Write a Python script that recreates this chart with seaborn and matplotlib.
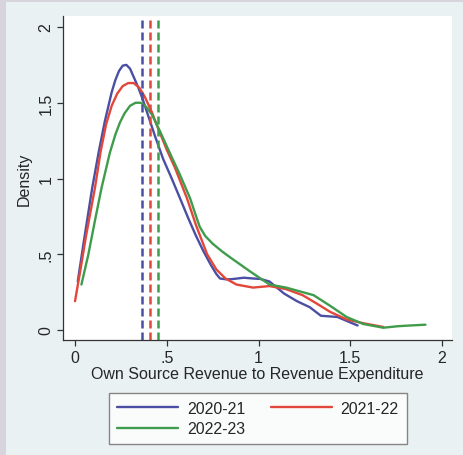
import numpy as np
import pandas as pd
import matplotlib
matplotlib.use("Agg")
import matplotlib.pyplot as plt
import seaborn as sns
from matplotlib.lines import Line2D
from matplotlib.patches import Rectangle

# Kernel density estimates of the ratio, one curve per year
years = ["2020-21", "2021-22", "2022-23"]

x_2020 = [0.015, 0.05, 0.094, 0.13, 0.163, 0.2, 0.22, 0.24, 0.26, 0.28, 0.30, 0.32,
          0.345, 0.367, 0.40, 0.436, 0.48, 0.527, 0.572, 0.62, 0.66, 0.70, 0.74, 0.77,
          0.79, 0.82, 0.85, 0.92, 0.97, 1.01, 1.06, 1.14, 1.21, 1.28, 1.34, 1.43,
          1.50, 1.54]
y_2020 = [0.32, 0.60, 0.94, 1.18, 1.38, 1.57, 1.65, 1.71, 1.745, 1.75, 1.725, 1.67,
          1.60, 1.53, 1.41, 1.28, 1.13, 1.00, 0.87, 0.73, 0.62, 0.52, 0.43, 0.37,
          0.34, 0.335, 0.335, 0.345, 0.34, 0.337, 0.32, 0.24, 0.19, 0.15, 0.094, 0.086,
          0.05, 0.03]

x_2021 = [0.0, 0.03, 0.06, 0.109, 0.14, 0.17, 0.20, 0.23, 0.26, 0.29, 0.32, 0.35,
          0.38, 0.418, 0.45, 0.50, 0.545, 0.61, 0.66, 0.72, 0.77, 0.82, 0.88, 0.97,
          1.06, 1.15, 1.24, 1.31, 1.39, 1.48, 1.57, 1.68]
y_2021 = [0.19, 0.40, 0.62, 0.94, 1.18, 1.36, 1.48, 1.56, 1.61, 1.63, 1.63, 1.60,
          1.54, 1.44, 1.34, 1.19, 1.07, 0.87, 0.69, 0.50, 0.40, 0.34, 0.30, 0.28,
          0.29, 0.27, 0.23, 0.18, 0.12, 0.07, 0.045, 0.02]

x_2022 = [0.035, 0.073, 0.11, 0.145, 0.19, 0.22, 0.245, 0.27, 0.30, 0.33, 0.36, 0.39,
          0.42, 0.46, 0.52, 0.57, 0.627, 0.66, 0.68, 0.71, 0.75, 0.80, 0.845, 0.95,
          1.06, 1.15, 1.30, 1.39, 1.48, 1.57, 1.68, 1.76, 1.83, 1.91]
y_2022 = [0.30, 0.50, 0.73, 0.94, 1.17, 1.29, 1.37, 1.43, 1.48, 1.50, 1.50, 1.47,
          1.42, 1.32, 1.16, 1.03, 0.87, 0.75, 0.68, 0.62, 0.57, 0.52, 0.48, 0.39,
          0.30, 0.28, 0.23, 0.16, 0.086, 0.04, 0.015, 0.025, 0.03, 0.035]

# Yearly means, drawn as dashed reference lines
means = [0.365, 0.41, 0.45]

x_ticks = [0, 0.5, 1, 1.5, 2]
x_tick_labels = ["0", ".5", "1", "1.5", "2"]
y_ticks = [0, 0.5, 1, 1.5, 2]
y_tick_labels = ["0", ".5", "1", "1.5", "2"]

colors = ["#4b4fa3", "#e2473b", "#3f9c4c"]

frames = []
for yr, xs, ys in zip(years, [x_2020, x_2021, x_2022], [y_2020, y_2021, y_2022]):
    frames.append(pd.DataFrame({"ratio": xs, "density": ys, "year": yr}))
df = pd.concat(frames, ignore_index=True)

sns.set_theme(style="white")
plt.rcParams["font.family"] = ["Liberation Sans", "DejaVu Sans"]

W, H = 463, 456
fig = plt.figure(figsize=(W / 100, H / 100), dpi=100)
fig.patch.set_facecolor("#e9f1f2")

# lavender outer frame on the left and top edges
fig.add_artist(Rectangle((0, 0), 6 / W, 1, transform=fig.transFigure,
                         facecolor="#d8d4de", edgecolor="none", zorder=0))
fig.add_artist(Rectangle((0, 1 - 3 / H), 1, 3 / H, transform=fig.transFigure,
                         facecolor="#d8d4de", edgecolor="none", zorder=0))

left, right, top, bottom = 63, 452, 17, 341
ax = fig.add_axes([left / W, 1 - bottom / H, (right - left) / W, (bottom - top) / H])
ax.set_facecolor("white")

sns.lineplot(data=df, x="ratio", y="density", hue="year", palette=colors,
             sort=False, estimator=None, linewidth=1.7, legend=False, ax=ax)

for m, c in zip(means, colors):
    ax.axvline(m, color=c, linestyle=(0, (3.2, 1.6)), linewidth=1.8)

ax.set_xlim((left - 75) / 183.5, (right - 75) / 183.5)
ax.set_ylim((331 - bottom) / 151.5, (331 - top) / 151.5)

ax.set_xticks(x_ticks)
ax.set_xticklabels(x_tick_labels, fontsize=11.5)
ax.set_yticks(y_ticks)
ax.set_yticklabels(y_tick_labels, fontsize=11.5, rotation=90, va="center")
ax.tick_params(axis="both", direction="out", length=4, width=0.9, color="#333333",
               bottom=True, left=True, pad=3)

for s in ["top", "right"]:
    ax.spines[s].set_visible(False)
for s in ["left", "bottom"]:
    ax.spines[s].set_color("#333333")
    ax.spines[s].set_linewidth(0.9)

ax.set_xlabel("Own Source Revenue to Revenue Expenditure", fontsize=11.5, labelpad=1)
ax.set_ylabel("Density", fontsize=11.5, labelpad=5)

# legend filled column by column, so reorder to read row by row
order = [0, 2, 1]
handles = [Line2D([0], [0], color=colors[i], linewidth=1.7) for i in order]
labels = [years[i] for i in order]
leg = fig.legend(handles, labels, loc="center",
                 bbox_to_anchor=((107 + 409) / 2 / W, 1 - (393 + 446) / 2 / H),
                 ncol=2, fontsize=11.5, frameon=True, fancybox=False,
                 handlelength=3.8, columnspacing=1.6, handletextpad=0.56,
                 labelspacing=0.35, borderpad=0.5, borderaxespad=0)
leg.get_frame().set_edgecolor("#6f6868")
leg.get_frame().set_linewidth(1.0)
leg.get_frame().set_facecolor("white")

fig.savefig("out.png", dpi=100, facecolor=fig.get_facecolor())
